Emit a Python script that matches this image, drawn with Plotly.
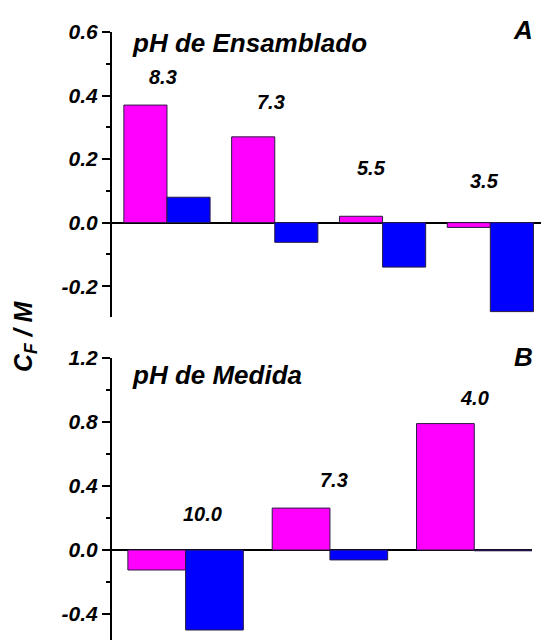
import plotly.graph_objects as go

# Panel A: assembly pH
ph_ensamblado = ["8.3", "7.3", "5.5", "3.5"]
cf_a_magenta = [0.37, 0.27, 0.02, -0.015]
cf_a_blue = [0.08, -0.062, -0.14, -0.28]

# Panel B: measurement pH
ph_medida = ["10.0", "7.3", "4.0"]
cf_b_magenta = [-0.125, 0.262, 0.79]
cf_b_blue = [-0.50, -0.062, -0.005]

ticks_a = [-0.2, 0.0, 0.2, 0.4, 0.6]
ticks_a_text = ["-0.2", "0.0", "0.2", "0.4", "0.6"]
ticks_b = [-0.4, 0.0, 0.4, 0.8, 1.2]
ticks_b_text = ["-0.4", "0.0", "0.4", "0.8", "1.2"]

W, H = 541, 640
FONT = "Liberation Sans, Arial, sans-serif"
MAGENTA = "#FF00FF"
BLUE = "#0000FF"
OUTLINE = "#2a1a40"


def px_x(px):
    return px / W


def px_y(px):
    return 1 - px / H


fig = go.Figure()

fig.add_trace(go.Bar(x=ph_ensamblado, y=cf_a_magenta, marker=dict(color=MAGENTA, line=dict(color=OUTLINE, width=1)),
                     xaxis="x", yaxis="y", showlegend=False))
fig.add_trace(go.Bar(x=ph_ensamblado, y=cf_a_blue, marker=dict(color=BLUE, line=dict(color=OUTLINE, width=1)),
                     xaxis="x", yaxis="y", showlegend=False))
fig.add_trace(go.Bar(x=ph_medida, y=cf_b_magenta, marker=dict(color=MAGENTA, line=dict(color=OUTLINE, width=1)),
                     xaxis="x2", yaxis="y2", showlegend=False))
fig.add_trace(go.Bar(x=ph_medida, y=cf_b_blue, marker=dict(color=BLUE, line=dict(color=OUTLINE, width=1)),
                     xaxis="x2", yaxis="y2", showlegend=False))

tickfont = dict(family=FONT, size=21, color="black", weight="bold", style="italic")


def yaxis_style(vals, text, minor_step, rng, domain, anchor):
    return dict(
        domain=domain, range=rng, anchor=anchor, automargin=False,
        tickmode="array", tickvals=vals, ticktext=text,
        ticks="outside", ticklen=8, tickwidth=2, tickcolor="black",
        minor=dict(tickmode="linear", tick0=0, dtick=minor_step, ticks="outside",
                   ticklen=4, tickwidth=2, tickcolor="black"),
        showline=True, linecolor="black", linewidth=2,
        showgrid=False, zeroline=True, zerolinecolor="black", zerolinewidth=2,
        tickfont=tickfont, fixedrange=True,
    )


def xaxis_style(rng, domain, anchor):
    return dict(domain=domain, range=rng, anchor=anchor, type="category", automargin=False,
                showticklabels=False, ticks="", showline=False, showgrid=False,
                zeroline=False, fixedrange=True)


fig.update_layout(
    width=W, height=H,
    margin=dict(l=0, r=0, t=0, b=0, pad=0, autoexpand=False),
    paper_bgcolor="white", plot_bgcolor="white",
    barmode="group", bargap=0.2, bargroupgap=0,
    xaxis=xaxis_style([-0.51, 3.47], [px_x(112), 1.0], "y"),
    yaxis=yaxis_style(ticks_a, ticks_a_text, 0.1, [-0.297, 0.6], [px_y(317), px_y(32)], "x"),
    xaxis2=xaxis_style([-0.51, 2.40], [px_x(112), px_x(532)], "y2"),
    yaxis2=yaxis_style(ticks_b, ticks_b_text, 0.2, [-0.5625, 1.2], [0.0, px_y(358)], "x2"),
)

label_font = dict(family=FONT, size=20, color="black", weight="bold", style="italic")
title_font = dict(family=FONT, size=26, color="black", weight="bold", style="italic")

# pH labels above each group (positioned by category index)
label_y_a = [0.458, 0.379, 0.172, 0.131]
label_dx_a = [-4, -4, -11, -6]
for i, (cat, ly, dx) in enumerate(zip(ph_ensamblado, label_y_a, label_dx_a)):
    fig.add_annotation(x=i, y=ly, xref="x", yref="y", text=cat, showarrow=False,
                       xshift=dx, font=label_font, xanchor="center", yanchor="middle")

label_y_b = [0.225, 0.44, 0.947]
label_dx_b = [17, 4, 0]
for i, (cat, ly, dx) in enumerate(zip(ph_medida, label_y_b, label_dx_b)):
    fig.add_annotation(x=i, y=ly, xref="x2", yref="y2", text=cat, showarrow=False,
                       xshift=dx, font=label_font, xanchor="center", yanchor="middle")

# Panel headings
fig.add_annotation(x=px_x(130), y=px_y(43), xref="paper", yref="paper", text="pH de Ensamblado",
                   showarrow=False, xanchor="left", yanchor="middle", font=title_font)
fig.add_annotation(x=px_x(130), y=px_y(375), xref="paper", yref="paper", text="pH de Medida",
                   showarrow=False, xanchor="left", yanchor="middle", font=title_font)
fig.add_annotation(x=px_x(523), y=px_y(30), xref="paper", yref="paper", text="A",
                   showarrow=False, xanchor="center", yanchor="middle", font=title_font)
fig.add_annotation(x=px_x(523), y=px_y(357), xref="paper", yref="paper", text="B",
                   showarrow=False, xanchor="center", yanchor="middle", font=title_font)

# Shared y-axis title
fig.add_annotation(x=px_x(25), y=px_y(336), xref="paper", yref="paper",
                   text="C<sub>F</sub> / M", textangle=-90, showarrow=False,
                   xanchor="center", yanchor="middle",
                   font=dict(family=FONT, size=25, color="black", weight="bold", style="italic"))

fig.write_html("out.html")
